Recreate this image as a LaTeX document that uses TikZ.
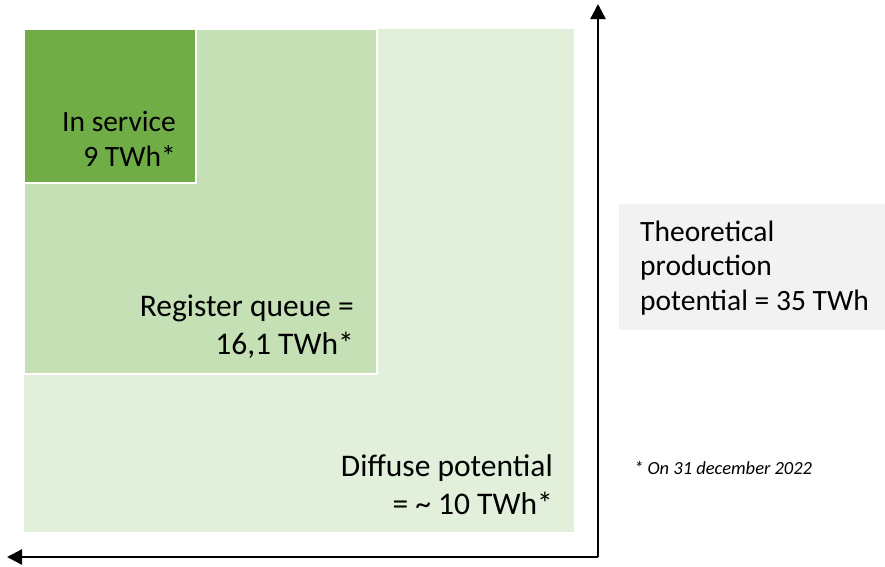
\documentclass[tikz,border=0pt]{standalone}
\usepackage{fontspec}
\setmainfont{Carlito}
\usetikzlibrary{arrows.meta}

\definecolor{darkgreen}{HTML}{70AD47}
\definecolor{midgreen}{HTML}{C5E0B4}
\definecolor{palegreen}{HTML}{E2EFDA}
\definecolor{boxgray}{HTML}{F2F2F2}

\tikzset{
  label/.style={font=\fontsize{29.5}{34.5}\selectfont, inner sep=0pt},
  biglabel/.style={font=\fontsize{31.5}{38}\selectfont, inner sep=0pt},
  axis/.style={line width=2.4pt, -{Triangle[width=15pt,length=15pt]}}
}

\begin{document}
\begin{tikzpicture}[x=1pt, y=-1pt]
    \useasboundingbox (0,0) rectangle (885,566);

    % Nested areas
    \fill[palegreen] (24,29) rectangle (574,532);
    \filldraw[fill=midgreen, draw=white, line width=2.5pt] (24,29) rectangle (377,374);
    \filldraw[fill=darkgreen, draw=white, line width=2.5pt] (24,29) rectangle (196,183);

    % Axes
    \coordinate (O) at (598,557);
    \coordinate (top) at (598,4);
    \coordinate (left) at (7,557);
    \draw[axis] (O) -- (top);
    \draw[axis] (O) -- (left);

    % Labels (anchored at the baseline of the last line)
    \node[label, align=right, anchor=base east] (service) at (176,166) {In service\\9 TWh*};
    \node[biglabel, align=right, anchor=base east] (queue) at (354,354) {Register queue =\\16,1 TWh*};
    \node[biglabel, align=right, anchor=base east] (diffuse) at (553,514) {Diffuse potential\\= \textasciitilde{} 10 TWh*};

    % Theoretical potential box
    \fill[boxgray] (619,204) rectangle (885,330);
    \node[label, align=left, anchor=base west] (theory) at (640,310) {Theoretical\\production\\potential = 35 TWh};

    \node[font=\fontsize{18.5}{22}\selectfont\itshape, inner sep=0pt, anchor=base west] (note) at (634,474) {* On 31 december 2022};
\end{tikzpicture}
\end{document}
